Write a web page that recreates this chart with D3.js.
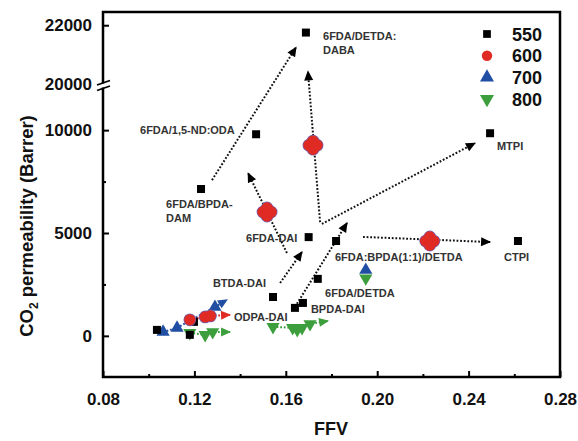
<!DOCTYPE html>
<html>
<head>
<meta charset="utf-8">
<script src="https://cdn.jsdelivr.net/npm/d3@7"></script>
<style>
  body { margin: 0; background: #fff; }
  text { font-family: "Liberation Sans", Arial, sans-serif; font-weight: bold; }
</style>
</head>
<body>
<div id="chart"></div>
<script>
// temperatures (legend)
var temps = ["550", "600", "700", "800"]

// 550 series: black squares
var ffv550 = [0.1036, 0.1198, 0.118, 0.1544, 0.164, 0.1675, 0.174, 0.170, 0.182, 0.2616, 0.1229, 0.147, 0.2494, 0.1688]
var perm550 = [290, 680, 50, 1890, 1360, 1600, 2770, 4800, 4610, 4610, 7140, 9800, 9850, 21750]

// 600 series: red circles (small trend + big overlapped clusters)
var ffv600 = [0.118, 0.1247, 0.127,
  0.1500, 0.1536, 0.1518, 0.1518,
  0.1701, 0.1737, 0.1719, 0.1719,
  0.2212, 0.2248, 0.2230, 0.2230]
var perm600 = [780, 920, 970,
  6020, 6020, 5820, 6220,
  9270, 9270, 9070, 9470,
  4610, 4610, 4410, 4810]

// 700 series: blue up triangles
var ffv700 = [0.1063, 0.1124, 0.129, 0.195, 0.1518, 0.1719, 0.2230]
var perm700 = [190, 390, 1400, 3200, 6020, 9270, 4610]

// 800 series: green down triangles
var ffv800 = [0.118, 0.1247, 0.128, 0.1544, 0.163, 0.165, 0.1671, 0.1706, 0.195]
var perm800 = [146, 50, 190, 440, 390, 290, 390, 580, 2800]

// colored trend arrows for low-FFV groups
var trendBlueX = [0.1063, 0.1124, 0.129, 0.1343], trendBlueY = [190, 390, 1400, 1750]
var trendRedX = [0.118, 0.1247, 0.127, 0.1356], trendRedY = [780, 920, 970, 1020]
var trendGreenX = [0.118, 0.1247, 0.128, 0.1356], trendGreenY = [146, 50, 190, 190]
var trendGreen2X = [0.1544, 0.163, 0.1671, 0.1706, 0.1785], trendGreen2Y = [440, 390, 390, 580, 730]

// black dotted arrows [ffv1, perm1, ffv2, perm2]
var arrows = [
  [0.1277, 7570, 0.1645, 21250],
  [0.1605, 4030, 0.1435, 7910],
  [0.1750, 5530, 0.1697, 20430],
  [0.1758, 5440, 0.2428, 9370],
  [0.1575, 2570, 0.1671, 4080],
  [0.1632, 1260, 0.1868, 5490],
  [0.1938, 4810, 0.2494, 4560]
]

// annotations: text lines, ffv, perm
var labels = [
  [["6FDA/DETDA:", "DABA"], 0.1763, 21500],
  [["6FDA/1,5-ND:ODA"], 0.0962, 9814],
  [["6FDA/BPDA-", "DAM"], 0.1076, 6218],
  [["MTPI"], 0.2524, 9036],
  [["6FDA-DAI"], 0.1426, 4564],
  [["6FDA:BPDA(1:1)/DETDA"], 0.1815, 3641],
  [["CTPI"], 0.2555, 3641],
  [["6FDA/DETDA"], 0.1772, 1891],
  [["BTDA-DAI"], 0.1281, 2377],
  [["ODPA-DAI"], 0.1373, 729],
  [["BPDA-DAI"], 0.171, 1113]
]

var xTicks = [0.08, 0.12, 0.16, 0.20, 0.24, 0.28]
var xMinor = [0.10, 0.14, 0.18, 0.22, 0.26]
var yTicksLow = [0, 5000, 10000]
var yMinorLow = [2500, 7500]
var yTicksHigh = [20000, 22000]

var width = 578, height = 441
var colors = { "550": "#000000", "600": "#e02a24", "700": "#1f4ea3", "800": "#3c9e3c" }

var svg = d3.select("#chart").append("svg")
  .attr("width", width).attr("height", height)

var x = d3.scaleLinear().domain([0.08, 0.28]).range([103, 560])
var yLo = d3.scaleLinear().domain([-2000, 12000]).range([377, 89])
var yHi = d3.scaleLinear().domain([20000, 22450]).range([84, 12])
function y(v) { return v >= 15000 ? yHi(v) : yLo(v) }

// arrow markers
var defs = svg.append("defs")
Object.keys(colors).forEach(function (k) {
  defs.append("marker")
    .attr("id", "arr" + k)
    .attr("viewBox", "0 -5 10 10")
    .attr("refX", 9).attr("refY", 0)
    .attr("markerUnits", "userSpaceOnUse")
    .attr("markerWidth", 11).attr("markerHeight", 10)
    .attr("orient", "auto")
    .append("path")
    .attr("d", "M0,-4.5L10,0L0,4.5Z")
    .attr("fill", colors[k])
})

// axes
function styleAxis(g) {
  g.select(".domain").remove()
  g.selectAll("line").attr("stroke", "#000").attr("stroke-width", 2)
  g.selectAll("text").style("font-size", "17px").attr("fill", "#111")
}
svg.append("g").attr("transform", "translate(0,377)")
  .call(d3.axisBottom(x).tickValues(xTicks).tickSize(-6).tickPadding(16).tickFormat(d3.format(".2f")))
  .call(styleAxis)
svg.append("g").attr("transform", "translate(0,377)")
  .call(d3.axisBottom(x).tickValues(xMinor).tickSize(-3).tickFormat(""))
  .call(styleAxis)
svg.append("g").attr("transform", "translate(103,0)")
  .call(d3.axisLeft(yLo).tickValues(yTicksLow).tickSize(-6).tickPadding(11).tickFormat(d3.format("d")))
  .call(styleAxis)
svg.append("g").attr("transform", "translate(103,0)")
  .call(d3.axisLeft(yLo).tickValues(yMinorLow).tickSize(-3).tickFormat(""))
  .call(styleAxis)
var hiAxis = svg.append("g").attr("transform", "translate(103,0)")
  .call(d3.axisLeft(yHi).tickValues(yTicksHigh).tickSize(-6).tickPadding(11).tickFormat(d3.format("d")))
  .call(styleAxis)
hiAxis.selectAll(".tick").filter(function (d) { return d === 20000 }).select("line").remove()

// frame
svg.append("rect")
  .attr("x", 103).attr("y", 12).attr("width", 457).attr("height", 365)
  .attr("fill", "none").attr("stroke", "#000").attr("stroke-width", 2.5)

// axis break
svg.append("rect").attr("x", 100).attr("y", 83.5).attr("width", 6).attr("height", 4).attr("fill", "#fff")
svg.append("line").attr("x1", 97).attr("y1", 85).attr("x2", 110).attr("y2", 80.5).attr("stroke", "#000").attr("stroke-width", 1.8)
svg.append("line").attr("x1", 97).attr("y1", 90.5).attr("x2", 110).attr("y2", 86).attr("stroke", "#000").attr("stroke-width", 1.8)

// axis titles
var yt = svg.append("text")
  .attr("transform", "translate(33,226) rotate(-90)")
  .attr("text-anchor", "middle")
  .style("font-size", "18.5px").attr("fill", "#111")
yt.append("tspan").text("CO")
yt.append("tspan").text("2").style("font-size", "12px").attr("dy", 5)
yt.append("tspan").text(" permeability (Barrer)").attr("dy", -5)
svg.append("text").attr("x", 331).attr("y", 435).attr("text-anchor", "middle")
  .style("font-size", "18px").attr("fill", "#111").text("FFV")

// black dotted arrows
svg.selectAll(".arrow").data(arrows).enter().append("line")
  .attr("class", "arrow")
  .attr("x1", function (d) { return x(d[0]) })
  .attr("y1", function (d) { return y(d[1]) })
  .attr("x2", function (d) { return x(d[2]) })
  .attr("y2", function (d) { return y(d[3]) })
  .attr("stroke", "#111").attr("stroke-width", 2)
  .attr("stroke-dasharray", "1.8,1.8")
  .attr("marker-end", "url(#arr550)")

// colored trends
var trends = [
  [trendBlueX, trendBlueY, "700"],
  [trendRedX, trendRedY, "600"],
  [trendGreenX, trendGreenY, "800"],
  [trendGreen2X, trendGreen2Y, "800"]
]
var line = d3.line().x(function (d) { return x(d[0]) }).y(function (d) { return y(d[1]) })
trends.forEach(function (t) {
  svg.append("path")
    .attr("d", line(d3.zip(t[0], t[1])))
    .attr("fill", "none")
    .attr("stroke", colors[t[2]]).attr("stroke-width", 2)
    .attr("stroke-dasharray", "1.8,1.8")
    .attr("marker-end", "url(#arr" + t[2] + ")")
})

// points
function drawSeries(xs, ys, fill, symbol, size, rot, stroke, sw) {
  svg.append("g").selectAll("path").data(d3.zip(xs, ys)).enter().append("path")
    .attr("d", d3.symbol().type(symbol).size(size))
    .attr("transform", function (d) { return "translate(" + x(d[0]) + "," + y(d[1]) + ") rotate(" + rot + ")" })
    .attr("fill", fill)
    .attr("stroke", stroke || "none").attr("stroke-width", sw || 0)
}
drawSeries(ffv800, perm800, colors["800"], d3.symbolTriangle, 75, 180)
drawSeries(ffv700, perm700, colors["700"], d3.symbolTriangle, 75, 0)
drawSeries(ffv550, perm550, colors["550"], d3.symbolSquare, 64, 0)
// outline pass then fill pass, so overlapping circles show one merged outline
drawSeries(ffv600, perm600, colors["600"], d3.symbolCircle, 100, 0, "#6f64b4", 1.4)
drawSeries(ffv600, perm600, colors["600"], d3.symbolCircle, 100, 0)

// labels
labels.forEach(function (l) {
  var t = svg.append("text")
    .attr("x", x(l[1])).attr("y", y(l[2]))
    .style("font-size", "11px").attr("fill", "#333")
  l[0].forEach(function (s, i) {
    t.append("tspan").attr("x", x(l[1])).attr("dy", i === 0 ? 0 : 14).text(s)
  })
})

// legend
var legSymbols = [d3.symbolSquare, d3.symbolCircle, d3.symbolTriangle, d3.symbolTriangle]
var legRot = [0, 0, 0, 180]
var leg = svg.append("g").selectAll("g").data(temps).enter().append("g")
  .attr("transform", function (d, i) { return "translate(487," + (34 + i * 21.7) + ")" })
leg.append("path")
  .attr("d", function (d, i) { return d3.symbol().type(legSymbols[i]).size(i === 0 ? 60 : 85)() })
  .attr("transform", function (d, i) { return "rotate(" + legRot[i] + ")" })
  .attr("fill", function (d) { return colors[d] })
leg.append("text").attr("x", 25).attr("y", 6.5)
  .style("font-size", "18px").attr("fill", "#111")
  .text(function (d) { return d })
</script>
</body>
</html>
